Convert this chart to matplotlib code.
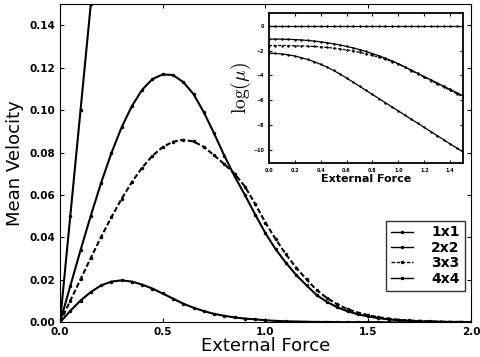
import matplotlib
matplotlib.use("Agg")
import matplotlib.pyplot as plt
import numpy as np

# sample grid of the external force (main panel 0..2, inset 0..1.5)
force = np.linspace(0, 2, 41)
force_inset = np.linspace(0, 1.5, 31)

labels = ['1x1', '2x2', '3x3', '4x4']

# mean velocity
vel_1x1 = [0.0, 0.05, 0.10, 0.15, 0.20, 0.25, 0.30, 0.35, 0.40, 0.45, 0.50,
           0.55, 0.60, 0.65, 0.70, 0.75, 0.80, 0.85, 0.90, 0.95, 1.00,
           1.05, 1.10, 1.15, 1.20, 1.25, 1.30, 1.35, 1.40, 1.45, 1.50,
           1.55, 1.60, 1.65, 1.70, 1.75, 1.80, 1.85, 1.90, 1.95, 2.00]
vel_2x2 = [0.0, 0.0171, 0.0340, 0.0503, 0.0657, 0.0797, 0.0919, 0.1019, 0.1096,
           0.1146, 0.1168, 0.1165, 0.1132, 0.1075, 0.0990, 0.0890, 0.0785,
           0.0688, 0.0600, 0.0508, 0.0420, 0.0344, 0.0280, 0.0223, 0.0174,
           0.0128, 0.0096, 0.0071, 0.0052, 0.0038, 0.0028, 0.0020, 0.0014,
           0.0010, 0.0007, 0.0005, 0.0004, 0.0003, 0.0002, 0.0002, 0.0001]
vel_3x3 = [0.0, 0.0102, 0.0203, 0.0304, 0.0402, 0.0495, 0.0582, 0.0661, 0.0729,
           0.0785, 0.0826, 0.0851, 0.0860, 0.0852, 0.0827, 0.0787, 0.0745,
           0.0700, 0.0640, 0.0558, 0.0470, 0.0392, 0.0320, 0.0257, 0.0202,
           0.0152, 0.0114, 0.0085, 0.0062, 0.0046, 0.0034, 0.0024, 0.0018,
           0.0012, 0.0009, 0.0007, 0.0005, 0.0003, 0.0002, 0.0002, 0.0001]
vel_4x4 = [0.0, 0.0054, 0.0103, 0.0143, 0.0174, 0.0192, 0.0198, 0.0192, 0.0178,
           0.0159, 0.0136, 0.0112, 0.0088, 0.0069, 0.0053, 0.0040, 0.0031,
           0.0023, 0.0018, 0.0014, 0.0010, 0.0007, 0.0005, 0.0004, 0.0003,
           0.0002, 0.0002, 0.0001, 0.0001, 0.0001, 0.0001, 0.0001, 0.0,
           0.0, 0.0, 0.0, 0.0, 0.0, 0.0, 0.0, 0.0]

# log of the mobility
logmu_1x1 = [0.0] * 31
logmu_2x2 = [-1.07, -1.07, -1.08, -1.09, -1.11, -1.14, -1.18, -1.23, -1.29, -1.37,
             -1.45, -1.55, -1.66, -1.78, -1.92, -2.07, -2.24, -2.42, -2.62, -2.83,
             -3.06, -3.32, -3.58, -3.84, -4.10, -4.36, -4.62, -4.88, -5.14, -5.40,
             -5.66]
logmu_3x3 = [-1.59, -1.59, -1.59, -1.60, -1.61, -1.62, -1.64, -1.67, -1.70, -1.75,
             -1.80, -1.87, -1.94, -2.03, -2.14, -2.25, -2.39, -2.54, -2.70, -2.89,
             -3.09, -3.36, -3.62, -3.89, -4.15, -4.42, -4.68, -4.95, -5.21, -5.48,
             -5.74]
logmu_4x4 = [-2.22, -2.23, -2.28, -2.34, -2.44, -2.57, -2.72, -2.90, -3.11, -3.34,
             -3.61, -3.90, -4.22, -4.55, -4.88, -5.22, -5.55, -5.88, -6.22, -6.55,
             -6.88, -7.22, -7.55, -7.88, -8.21, -8.55, -8.88, -9.21, -9.55, -9.88,
             -10.21]

styles = ['-', '-', (0, (2.5, 1.2)), '-']

plt.rcParams['xtick.direction'] = 'in'
plt.rcParams['ytick.direction'] = 'in'
plt.rcParams['xtick.top'] = True
plt.rcParams['ytick.right'] = True
plt.rcParams['mathtext.fontset'] = 'cm'

fig = plt.figure(figsize=(4.8, 3.57), dpi=100)
ax = fig.add_axes([0.125, 0.097, 0.856, 0.892])

for vel, ls, lab in zip([vel_1x1, vel_2x2, vel_3x3, vel_4x4], styles, labels):
    ax.plot(force, vel, linestyle=ls, color='black', lw=1.5, marker='.', ms=3,
            label=lab)

ax.set_xlim(0, 2.0)
ax.set_ylim(0, 0.15)
ax.set_xticks([0.0, 0.5, 1.0, 1.5, 2.0])
ax.set_yticks([0.0, 0.02, 0.04, 0.06, 0.08, 0.10, 0.12, 0.14])
ax.set_yticklabels(['%.2f' % v for v in ax.get_yticks()])
ax.tick_params(labelsize=7.5, length=3)
for t in ax.get_xticklabels() + ax.get_yticklabels():
    t.set_fontweight('bold')
ax.set_xlabel('External Force', fontsize=13, labelpad=0)
ax.set_ylabel('Mean Velocity', fontsize=13, labelpad=4)

leg = ax.legend(loc='lower right', bbox_to_anchor=(0.985, 0.10), fancybox=False,
                edgecolor='black', prop={'weight': 'bold', 'size': 10},
                handlelength=1.6, borderpad=0.35, labelspacing=0.1,
                handletextpad=1.3, borderaxespad=0)
leg.get_frame().set_linewidth(1.0)
for h in leg.get_lines():
    h.set_linewidth(1.0)

# inset with log(mu)
ins = fig.add_axes([0.560, 0.543, 0.405, 0.421])
for lm, ls in zip([logmu_1x1, logmu_2x2, logmu_3x3, logmu_4x4], styles):
    ins.plot(force_inset, lm, linestyle=ls, color='black', lw=0.9, marker='.',
             ms=1.5)
ins.set_xlim(0, 1.5)
ins.set_ylim(-11.1, 1.05)
ins.set_xticks([0.0, 0.2, 0.4, 0.6, 0.8, 1.0, 1.2, 1.4])
ins.set_yticks([0, -2, -4, -6, -8, -10])
ins.tick_params(labelsize=3.5, length=2)
for t in ins.get_xticklabels() + ins.get_yticklabels():
    t.set_fontweight('bold')
for s in ins.spines.values():
    s.set_linewidth(1.3)
ins.set_xlabel('External Force', fontsize=8, fontweight='bold', labelpad=1)
ins.set_ylabel(r'$\log(\mu)$', fontsize=14, labelpad=0)

fig.savefig('out.png', dpi=100)
